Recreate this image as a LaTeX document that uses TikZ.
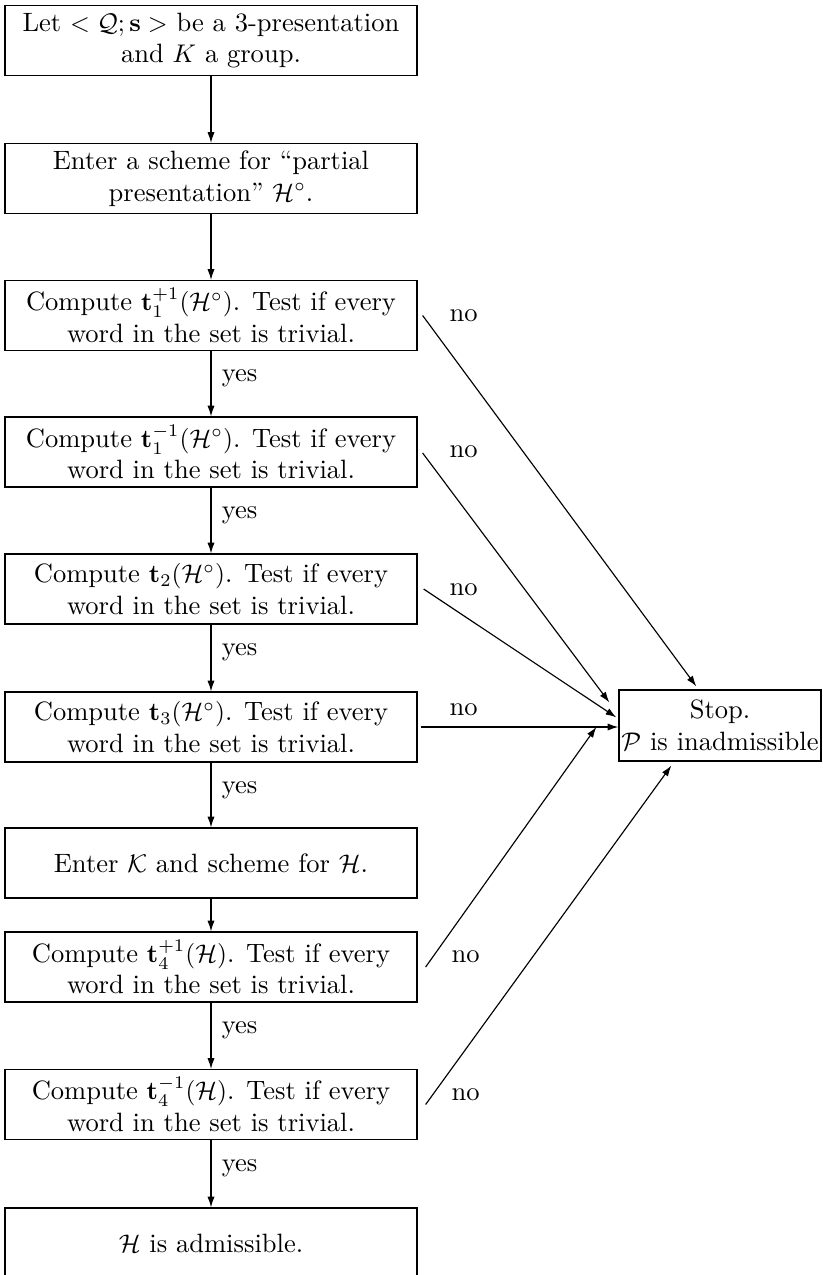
\documentclass[tikz,border=0pt]{standalone}
\usetikzlibrary{arrows.meta,calc}

\tikzset{
  stepbox/.style={draw, line width=0.5pt, align=center, inner sep=0pt,
    minimum width=161.5pt, minimum height=27.4pt},
  stopbox/.style={draw, line width=0.5pt, align=center, inner sep=0pt,
    minimum width=79.2pt, minimum height=27.8pt},
  flow/.style={line width=0.45pt, -{Latex[length=4.2pt,width=2.8pt]}},
  lbl/.style={inner sep=0pt}
}

\begin{document}
\begin{tikzpicture}[x=0.392pt, y=-0.392pt, font=\fontsize{10.4pt}{12.4pt}\selectfont]
\useasboundingbox (0,0) rectangle (822,1275);
\clip (0,0) rectangle (822,1275);

% main column of steps
\node[stepbox] (b1)  at (211,40.5)  {Let $<\mathcal{Q};\mathbf{s}>$ be a 3-presentation\\ and $K$ a group.};
\node[stepbox] (b2)  at (211,178.5) {Enter a scheme for ``partial\\ presentation'' $\mathcal{H}^{\circ}$.};
\node[stepbox] (b3)  at (211,315.5) {Compute $\mathbf{t}_1^{+1}(\mathcal{H}^{\circ})$. Test if every\\ word in the set is trivial.};
\node[stepbox] (b4)  at (211,452)   {Compute $\mathbf{t}_1^{-1}(\mathcal{H}^{\circ})$. Test if every\\ word in the set is trivial.};
\node[stepbox] (b5)  at (211,589)   {Compute $\mathbf{t}_2(\mathcal{H}^{\circ})$. Test if every\\ word in the set is trivial.};
\node[stepbox] (b6)  at (211,727)   {Compute $\mathbf{t}_3(\mathcal{H}^{\circ})$. Test if every\\ word in the set is trivial.};
\node[stepbox] (b7)  at (211,863)   {Enter $\mathcal{K}$ and scheme for $\mathcal{H}$.};
\node[stepbox] (b8)  at (211,967)   {Compute $\mathbf{t}_4^{+1}(\mathcal{H})$. Test if every\\ word in the set is trivial.};
\node[stepbox] (b9)  at (211,1104.5){Compute $\mathbf{t}_4^{-1}(\mathcal{H})$. Test if every\\ word in the set is trivial.};
\node[stepbox] (b10) at (211,1243)  {$\mathcal{H}$ is admissible.};

% terminal box on the right
\node[stopbox] (stop) at (720,725.5) {Stop.\\ $\mathcal{P}$ is inadmissible};

% downward flow
\draw[flow] (b1) -- (b2);
\draw[flow] (b2) -- (b3);
\draw[flow] (b3) -- node[right, lbl, pos=0.42, xshift=4pt] {yes} (b4);
\draw[flow] (b4) -- node[right, lbl, pos=0.42, xshift=4pt] {yes} (b5);
\draw[flow] (b5) -- node[right, lbl, pos=0.42, xshift=4pt] {yes} (b6);
\draw[flow] (b6) -- node[right, lbl, pos=0.42, xshift=4pt] {yes} (b7);
\draw[flow] (b7) -- (b8);
\draw[flow] (b8) -- node[right, lbl, pos=0.42, xshift=4pt] {yes} (b9);
\draw[flow] (b9) -- node[right, lbl, pos=0.42, xshift=4pt] {yes} (b10);

% failing tests lead to the stop box
\draw[flow] ($(b3.east)+(5,0)$)   -- ($(stop.north west)+(78,-3)$);
\draw[flow] ($(b4.east)+(5,1)$)   -- ($(stop.north west)+(-9,13)$);
\draw[flow] ($(b5.east)+(6,0)$)   -- ($(stop.north west)+(-2,28)$);
\draw[flow] ($(b6.east)+(3,0)$)   -- (b6.east -| stop.west);
\draw[flow] ($(b8.east)+(8,0)$)   -- ($(stop.west)+(-22,1.5)$);
\draw[flow] ($(b9.east)+(8,0)$)   -- ($(stop.south west)+(53,4)$);

% "no" labels
\node[lbl] (n3) at ($(b3.east)+(46,0)$)   {no};
\node[lbl] (n4) at ($(b4.east)+(46,0)$)   {no};
\node[lbl] (n5) at ($(b5.east)+(46,1)$)   {no};
\node[lbl] (n6) at ($(b6.east)+(46,-17)$) {no};
\node[lbl] (n8) at ($(b8.east)+(48,-10)$) {no};
\node[lbl] (n9) at ($(b9.east)+(48,-10)$) {no};
\end{tikzpicture}
\end{document}
